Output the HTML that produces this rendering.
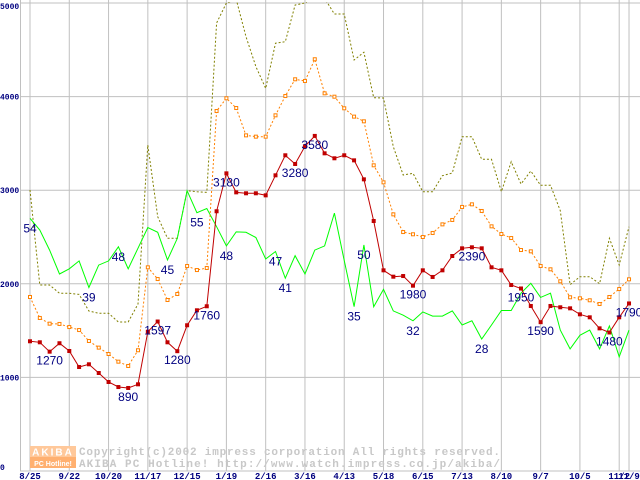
<!DOCTYPE html>
<html><head><meta charset="utf-8"><style>
body{margin:0;background:#fff;}
svg{display:block;font-family:"Liberation Sans",sans-serif;}
</style></head><body>
<svg id="chart" width="640" height="480" viewBox="0 0 640 480"></svg>
<script>
const xLabels=["8/25","9/22","10/20","11/17","12/15","1/19","2/16","3/16","4/13","5/18","6/15","7/13","8/10","9/7","10/5","11/2","11/9"];
const xLabelIdx=[0,4,8,12,16,20,24,28,32,36,40,44,48,52,56,60,61];
const yTicks=[0,1000,2000,3000,4000,5000];
const redVals=[1386,1375,1275,1365,1282,1111,1140,1047,951,897,887,926,1488,1597,1375,1280,1557,1717,1760,2775,3180,2977,2967,2967,2945,3159,3373,3280,3469,3580,3394,3341,3373,3319,3116,2671,2144,2076,2083,1980,2144,2073,2144,2297,2379,2390,2379,2176,2144,1987,1950,1763,1590,1763,1749,1738,1674,1642,1524,1480,1642,1790];
const orangeVals=[1859,1635,1574,1571,1538,1506,1389,1318,1250,1168,1122,1290,2176,2051,1827,1891,2190,2147,2169,3846,3982,3878,3586,3572,3572,3800,4006,4185,4167,4399,4035,3999,3875,3786,3736,3266,3084,2742,2553,2529,2500,2543,2635,2682,2821,2849,2778,2614,2532,2489,2361,2347,2190,2155,2027,1856,1845,1824,1784,1859,1944,2048];
const oliveVals=[3002,1987,1987,1898,1898,1887,1709,1685,1685,1592,1592,1784,3483,2717,2486,2486,2995,2984,2977,4786,5000,5040,4640,4320,4088,4570,4587,4979,5000,5080,5050,4882,4882,4391,4473,3988,3985,3465,3162,3181,2984,2984,3155,3184,3572,3572,3330,3330,2984,3305,3066,3205,3052,3052,2781,1990,2076,2076,2001,2486,2201,2610];
const greenPct=[54,51.5,47.2,42.1,43.2,44.9,39.2,44,44.9,47.9,43.2,47.6,52,51,45.1,49.7,59.9,55.2,56.1,52.2,48.1,51.1,51,49.9,45.3,46.9,41.2,46,42.1,47.2,48.1,55.1,45,35.1,48.3,35.1,38.8,34.2,33.3,32.1,34,33.1,33.1,34.2,31.2,32.1,28.2,31.2,34.3,34.3,38,40.1,37.1,38,30.1,26.1,29,30.1,26.1,31,24.4,30.1];
const redLabelIdx=[2,10,13,15,18,20,27,29,39,45,50,52,59,61];
const redLabelText=["1270","890","1597","1280","1760","3180","3280","3580","1980","2390","1950","1590","1480","1790"];
const greenLabelIdx=[0,6,9,14,17,20,25,26,34,33,39,46];
const greenLabelText=["54","39","48","45","55","48","47","41","50","35","32","28"];

const NS="http://www.w3.org/2000/svg";
const svg=document.getElementById('chart');
const X=i=>30+i*9.82;
const Y=v=>471-v*0.0936;
function mk(tag,attrs,parent){const e=document.createElementNS(NS,tag);for(const k in attrs)e.setAttribute(k,attrs[k]);(parent||svg).appendChild(e);return e;}

const defs=mk('defs',{});
const cp=mk('clipPath',{id:'plot'},defs);
mk('rect',{x:20,y:2,width:620,height:470},cp);

const grid=mk('g',{stroke:'#c0c0c0','stroke-width':1,fill:'none'});


yTicks.forEach(t=>{const l=mk('line',{x1:20,x2:640,y1:Y(t),y2:Y(t)},grid);

});
xLabelIdx.forEach(i=>{const l=mk('line',{x1:X(i),x2:X(i),y1:0,y2:471},grid);

});
const ax=mk('line',{x1:20.5,x2:20.5,y1:0,y2:471,stroke:'#c0c0c0'});



const wm=mk('g',{});


mk('rect',{x:30,y:446,width:46,height:11,fill:'#ffc89a'},wm);
mk('rect',{x:30,y:457,width:46,height:11,fill:'#ffb070'},wm);
const wa=mk('text',{x:53,y:455.5,'text-anchor':'middle','font-size':10,'font-weight':'bold',fill:'#fff','letter-spacing':'2'},wm);wa.textContent='AKIBA';
const wb=mk('text',{x:53,y:466,'text-anchor':'middle','font-size':7,'font-weight':'bold',fill:'#fff'},wm);wb.textContent='PC Hotline!';
const w1=mk('text',{x:79,y:455,'font-size':11,'font-family':'Liberation Mono, monospace','font-weight':'bold',fill:'#c8c8c8',textLength:421,lengthAdjust:'spacing'},wm);w1.textContent='Copyright(c)2002 impress corporation All rights reserved.';
const w2=mk('text',{x:79,y:467,'font-size':11,'font-family':'Liberation Mono, monospace','font-weight':'bold',fill:'#c8c8c8',textLength:421,lengthAdjust:'spacing'},wm);w2.textContent='AKIBA PC Hotline!  http://www.watch.impress.co.jp/akiba/';

function series(vals,scale,color,dash,name){
  const g=mk('g',{'clip-path':'url(#plot)'});
  
  
  const pts=vals.map((v,i)=>X(i).toFixed(1)+','+Y(v*scale).toFixed(1)).join(' ');
  const attrs={points:pts,fill:'none',stroke:color,'stroke-width':1};
  if(dash)attrs['stroke-dasharray']=dash;
  const p=mk('polyline',attrs,g);
  
  
  return g;
}
series(oliveVals,1,'#808000','2,2','olive-series');
series(greenPct,50,'#00ff00',null,'green-series');
const og=series(orangeVals,1,'#ff8000','2,2','orange-series');
orangeVals.forEach((v,i)=>{const r=mk('rect',{x:X(i)-1.5,y:Y(v)-1.5,width:3,height:3,fill:'#fff',stroke:'#ff8000','stroke-width':1},og);

});
const rg=series(redVals,1,'#c00000',null,'red-series');
redVals.forEach((v,i)=>{const r=mk('rect',{x:X(i)-2,y:Y(v)-2,width:4,height:4,fill:'#c00000'},rg);

});

redLabelIdx.forEach((i,k)=>{const t=mk('text',{x:X(i),y:Y(redVals[i])+13,'text-anchor':'middle','font-size':12,fill:'#000080'});


t.textContent=redLabelText[k];});
greenLabelIdx.forEach((i,k)=>{const t=mk('text',{x:X(i),y:Y(greenPct[i]*50)+14,'text-anchor':'middle','font-size':12,fill:'#000080'});


t.textContent=greenLabelText[k];});

yTicks.forEach(t=>{const e=mk('text',{x:0,y:t===0?Y(t)-1:(t===5000?9:Y(t)+3),'font-size':8,'font-weight':'bold','font-family':'Liberation Mono, monospace',fill:'#000080'});


e.textContent=String(t);});
xLabelIdx.forEach((i,k)=>{const e=mk('text',{x:X(i),y:479,'text-anchor':'middle','font-size':9,'font-weight':'bold','font-family':'Liberation Mono, monospace',fill:'#000080'});


e.textContent=xLabels[k];});
</script>
</body></html>
